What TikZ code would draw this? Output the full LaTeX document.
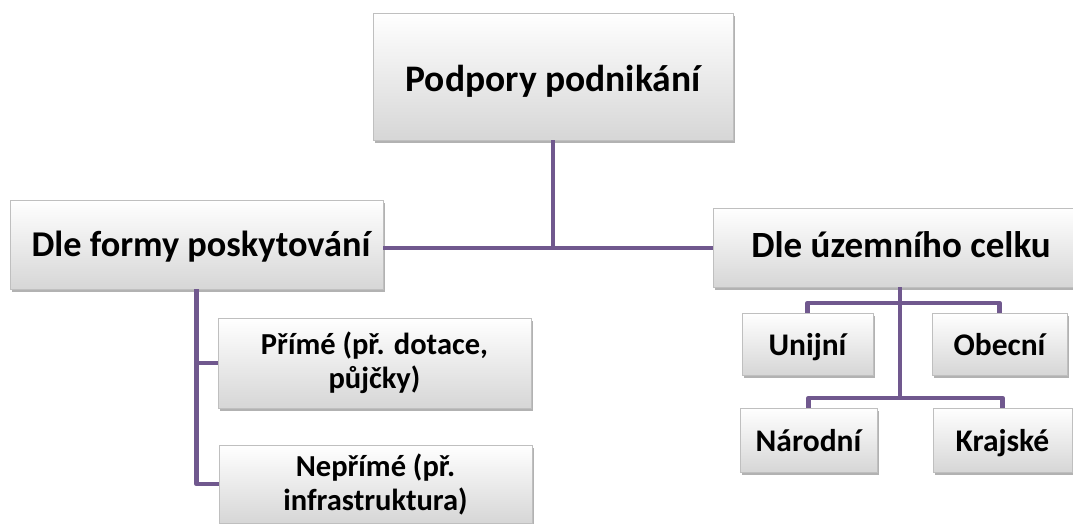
\documentclass[tikz,border=0pt]{standalone}
\usepackage{fontspec}
\setmainfont{Carlito}
\usetikzlibrary{shadows}
\definecolor{linkc}{RGB}{112,88,142}
\tikzset{
  box/.style={draw=gray!50, line width=0.6pt, top color=white, bottom color=gray!32,
    drop shadow={shadow xshift=2pt, shadow yshift=-3pt, opacity=0.3, fill=black},
    align=center, inner sep=2pt, text=black},
  bigbox/.style={box, font=\fontsize{37}{42}\selectfont\bfseries, text depth=7pt},
  twobox/.style={box, font=\fontsize{30.5}{34}\selectfont\bfseries},
  onebox/.style={box, font=\fontsize{31.5}{34}\selectfont\bfseries, text height=29pt, text depth=6pt},
  link/.style={draw=linkc, line width=4.8pt, line join=round}
}
\begin{document}
\begin{tikzpicture}[x=1pt,y=-1pt]
\useasboundingbox (0,0) rectangle (1073,523);
\clip (0,0) rectangle (1073,523);
\node[bigbox, text height=36pt, minimum width=360pt, minimum height=127pt] (top) at (553,76.5) {\fontsize{37.5}{42}\selectfont Podpory podnikání};
\node[bigbox, text height=31pt, minimum width=373pt, minimum height=89pt] (left) at (196.5,244.5) {\hspace*{9pt}\fontsize{36.3}{42}\selectfont Dle formy poskytování};
\node[bigbox, text height=26pt, minimum width=364pt, minimum height=79pt] (right) at (895,247.5) {\hspace*{12pt}Dle územního celku};
\node[twobox, minimum width=313pt, minimum height=90pt] (prime) at (374.5,363) {Přímé (př. dotace,\\půjčky)};
\node[twobox, minimum width=313pt, minimum height=78pt] (neprime) at (375.5,484) {Nepřímé (př.\\infrastruktura)};
\node[onebox, minimum width=131pt, minimum height=62pt] (unij) at (807.5,344) {Unijní};
\node[onebox, minimum width=135pt, minimum height=62pt] (obec) at (999.5,344) {Obecní};
\node[onebox, minimum width=137pt, minimum height=64pt] (narod) at (808.5,440) {Národní};
\node[onebox, minimum width=139pt, minimum height=64pt] (kraj) at (1002.5,440) {Krajské};
\coordinate (j1) at (553,248);
\coordinate (j2) at (900,303);
\coordinate (j3) at (900,398);
\draw[link] (top.south) -- (j1);
\draw[link] (left.east |- j1) -- (right.west |- j1);
\draw[link] (left.south) |- (prime.west);
\draw[link] (left.south) |- (neprime.west);
\draw[link] (right.south -| j2) -- (j3);
\draw[link] (unij.north) |- (j2) -| (obec.north);
\draw[link] (narod.north) |- (j3) -| (kraj.north);
\end{tikzpicture}
\end{document}
